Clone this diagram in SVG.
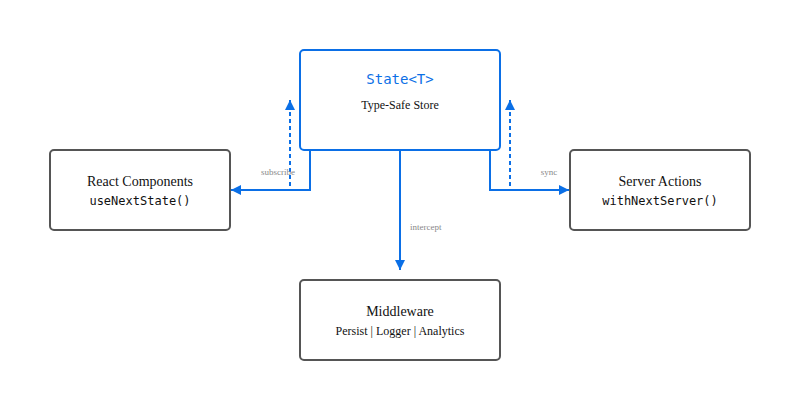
<svg xmlns="http://www.w3.org/2000/svg" width="800" height="400" viewBox="0 0 800 400">
<defs>
<marker id="ah" markerWidth="10" markerHeight="10" refX="10" refY="5" orient="auto" markerUnits="userSpaceOnUse">
<path d="M0,0 L10,5 L0,10 Z" fill="#0b6fe6"/>
</marker>
<style>
.box{fill:#fff;stroke:#555;stroke-width:2}
.main{fill:#fff;stroke:#0b6fe6;stroke-width:2}
.t{font-family:"Liberation Serif",serif;fill:#111;text-anchor:middle}
.m{font-family:"DejaVu Sans Mono",monospace;fill:#111;text-anchor:middle}
.c{fill:none;stroke:#0b6fe6;stroke-width:2}
.d{fill:none;stroke:#0b6fe6;stroke-width:2;stroke-dasharray:4 3}
.l{font-family:"Liberation Serif",serif;font-size:9px;fill:#888}
</style>
</defs>
<rect width="800" height="400" fill="#fff"/>
<g id="connectors">
<path class="c" d="M310,100 V190 H231" marker-end="url(#ah)"/>
<path class="d" d="M290,186 V100" marker-end="url(#ah)"/>
<path class="c" d="M490,100 V190 H569" marker-end="url(#ah)"/>
<path class="d" d="M510,186 V100" marker-end="url(#ah)"/>
<path class="c" d="M400,150 V270" marker-end="url(#ah)"/>
<text class="l" x="278" y="175" text-anchor="middle">subscribe</text>
<text class="l" x="549" y="175" text-anchor="middle">sync</text>
<text class="l" x="410" y="230">intercept</text>
</g>
<g id="state">
<rect class="main" x="300" y="50" width="200" height="100" rx="4"/>
<text class="m" x="400" y="84" font-size="14" fill="#0b6fe6" style="fill:#0b6fe6">State&lt;T&gt;</text>
<text class="t" x="400" y="109" font-size="12">Type-Safe Store</text>
</g>
<g id="react">
<rect class="box" x="50" y="150" width="180" height="80" rx="4"/>
<text class="t" x="140" y="186" font-size="14">React Components</text>
<text class="m" x="140" y="205" font-size="12">useNextState()</text>
</g>
<g id="server">
<rect class="box" x="570" y="150" width="180" height="80" rx="4"/>
<text class="t" x="660" y="186" font-size="14">Server Actions</text>
<text class="m" x="660" y="205" font-size="12">withNextServer()</text>
</g>
<g id="middleware">
<rect class="box" x="300" y="280" width="200" height="80" rx="4"/>
<text class="t" x="400" y="316" font-size="14">Middleware</text>
<text class="t" x="400" y="335" font-size="12">Persist | Logger | Analytics</text>
</g>
</svg>
